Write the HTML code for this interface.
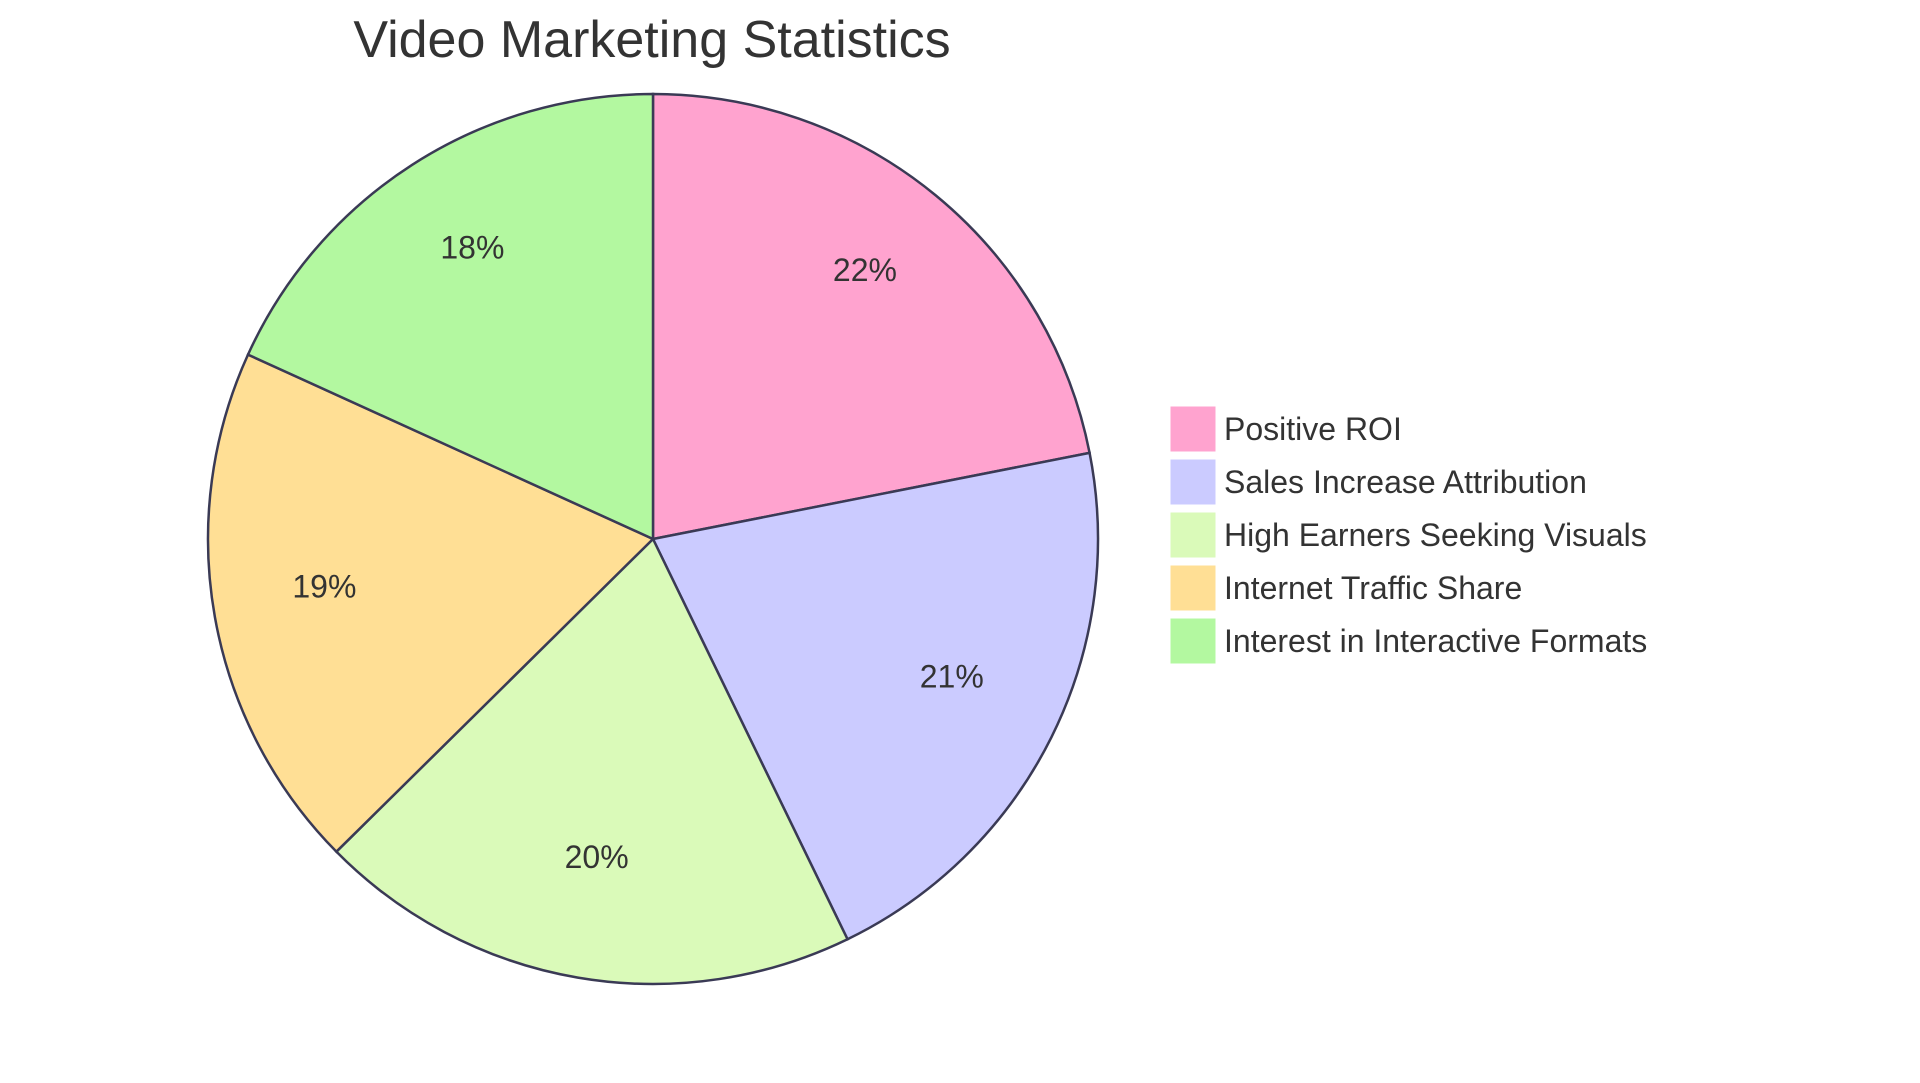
<!DOCTYPE html>
<html><head><meta charset="utf-8"><style>
html,body{margin:0;padding:0;background:#fff;width:1920px;height:1083px;overflow:hidden}
svg{display:block;font-family:"Liberation Sans",sans-serif}
</style></head><body>
<svg id="chart" width="1920" height="1083" viewBox="0 0 1920 1083">
<text x="652" y="57" text-anchor="middle" font-size="52" fill="#333">Video Marketing Statistics</text>
<g id="slices"></g><g id="labels"></g><g id="legend"></g>
</svg>
<script>
const categories=["Positive ROI","Sales Increase Attribution","High Earners Seeking Visuals","Internet Traffic Share","Interest in Interactive Formats"];
const values=[21.9,20.9,19.8,19.2,18.2];
const colors=["#ffa3cf","#cbcbff","#dafab9","#ffdf95","#b3f8a0"];
const NS="http://www.w3.org/2000/svg";
const cx=653,cy=539,r=445;
const total=values.reduce((a,b)=>a+b,0);
function pt(a,rad){return [cx+rad*Math.sin(a),cy-rad*Math.cos(a)];}
let a0=0;
const gs=document.getElementById('slices'),gl=document.getElementById('labels'),gL=document.getElementById('legend');
values.forEach((v,i)=>{
  const a1=a0+v/total*2*Math.PI;
  const p0=pt(a0,r),p1=pt(a1,r);
  const path=document.createElementNS(NS,'path');
  path.setAttribute('d',`M${cx},${cy}L${p0[0]},${p0[1]}A${r},${r} 0 ${a1-a0>Math.PI?1:0} 1 ${p1[0]},${p1[1]}Z`);
  path.setAttribute('fill',colors[i]);path.setAttribute('stroke','#3a3a55');path.setAttribute('stroke-width','2.5');
  
  
  gs.appendChild(path);
  const lp=pt((a0+a1)/2,r*0.75);
  const t=document.createElementNS(NS,'text');
  t.setAttribute('x',lp[0]);t.setAttribute('y',lp[1]-11);t.setAttribute('text-anchor','middle');
  t.setAttribute('dominant-baseline','central');
  t.setAttribute('font-size','32');t.setAttribute('fill','#333');
  t.textContent=Math.round(v/total*100)+'%';
  
  
  gl.appendChild(t);
  const g=document.createElementNS(NS,'g');
  
  
  const y=407+i*53;
  const rc=document.createElementNS(NS,'rect');
  rc.setAttribute('x',1171);rc.setAttribute('y',y);rc.setAttribute('width',44);rc.setAttribute('height',44);
  rc.setAttribute('fill',colors[i]);rc.setAttribute('stroke',colors[i]);
  
  
  const lt=document.createElementNS(NS,'text');
  lt.setAttribute('x',1224);lt.setAttribute('y',y+33);lt.setAttribute('font-size','32');lt.setAttribute('fill','#333');
  lt.textContent=categories[i];
  
  
  g.appendChild(rc);g.appendChild(lt);gL.appendChild(g);
  a0=a1;
});
</script>
</body></html>
